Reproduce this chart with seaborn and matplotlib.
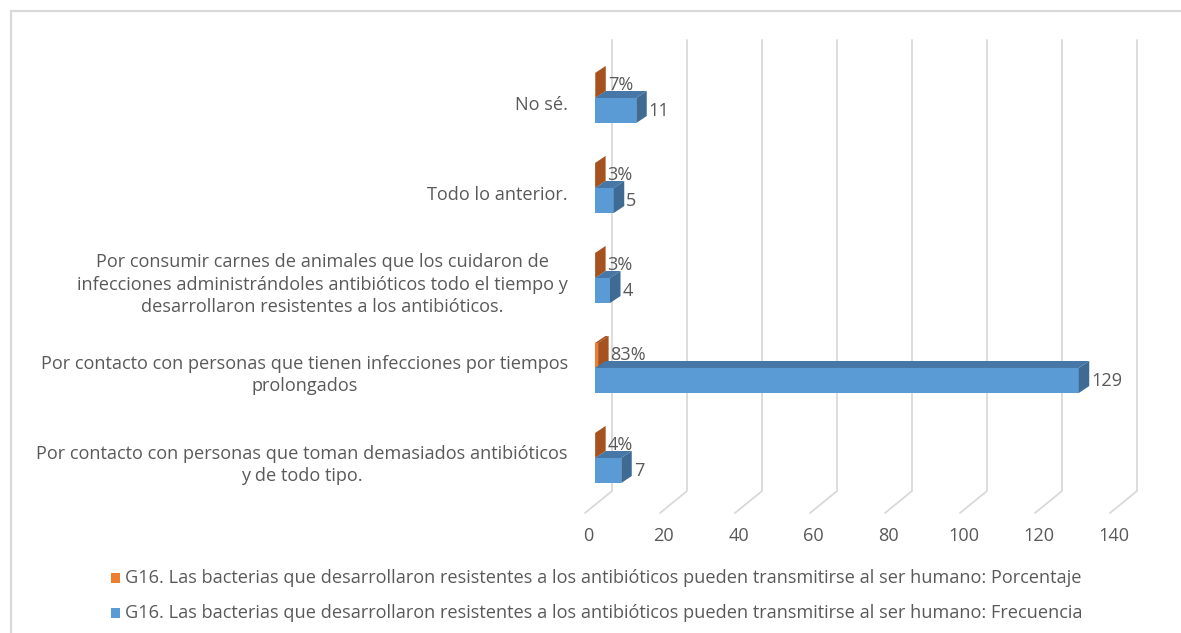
import pandas as pd
import matplotlib
matplotlib.use("Agg")
import matplotlib.pyplot as plt
from matplotlib.patches import Polygon, Rectangle
from matplotlib.lines import Line2D
import seaborn as sns

# datos
categorias = [
    "No sé.",
    "Todo lo anterior.",
    "Por consumir carnes de animales que los cuidaron de\ninfecciones administrándoles antibióticos todo el tiempo y\ndesarrollaron resistentes a los antibióticos.",
    "Por contacto con personas que tienen infecciones por tiempos\nprolongados",
    "Por contacto con personas que toman demasiados antibióticos\ny de todo tipo.",
]
frecuencia = [11, 5, 4, 129, 7]
porcentaje = [0.07, 0.03, 0.03, 0.83, 0.04]
etiquetas_pct = ["7%", "3%", "3%", "83%", "4%"]
etiquetas_frec = ["11", "5", "4", "129", "7"]
serie_pct = "G16. Las bacterias que desarrollaron resistentes a los antibióticos pueden transmitirse al ser humano: Porcentaje"
serie_frec = "G16. Las bacterias que desarrollaron resistentes a los antibióticos pueden transmitirse al ser humano: Frecuencia"
ticks_x = [0, 20, 40, 60, 80, 100, 120, 140]

df = pd.DataFrame({
    "categoria": categorias * 2,
    "valor": porcentaje + frecuencia,
    "serie": [serie_pct] * len(categorias) + [serie_frec] * len(categorias),
})

NARANJA = "#ED7D31"
NARANJA_LADO = "#A5521F"
AZUL = "#5B9BD5"
AZUL_ARRIBA = "#4677A6"
AZUL_LADO = "#3E6A93"
GRIS_TXT = "#595959"
GRIS_REJ = "#D9D9D9"

sns.set_style("white")
plt.rcParams["font.family"] = ["Open Sans", "DejaVu Sans"]
FS = 13.1

W, H = 1181, 633
fig = plt.figure(figsize=(W / 100, H / 100), dpi=100)

# escala en pixeles: 0 del frente de las barras en x=595, 3.75 px por unidad
PX_X = 3.75
X0 = 595
PX_Y = 90
Y0 = 98
left_px, right_px, top_px, bot_px = 580, 1165, 35, 560
ax = fig.add_axes([left_px / W, 1 - bot_px / H, (right_px - left_px) / W, (bot_px - top_px) / H])

sns.barplot(data=df, y="categoria", x="valor", hue="serie", order=categorias,
            hue_order=[serie_pct, serie_frec], palette=[NARANJA, AZUL],
            width=0.556, dodge=True, errorbar=None, saturation=1,
            linewidth=0, legend=False, ax=ax)

ax.set_xlim((left_px - X0) / PX_X, (right_px - X0) / PX_X)
ax.set_ylim((bot_px - Y0) / PX_Y, (top_px - Y0) / PX_Y)
ax.set_axis_off()

# profundidad de las barras (efecto 3D)
dx = 10.5 / PX_X
dy = 7 / PX_Y

for p in ax.patches:
    x0 = p.get_x()
    x1 = x0 + p.get_width()
    yt = p.get_y()
    yb = yt + p.get_height()
    es_azul = matplotlib.colors.same_color(p.get_facecolor(), AZUL)
    z = 3 if es_azul else 2
    p.set_zorder(z)
    arriba = AZUL_ARRIBA if es_azul else NARANJA_LADO
    lado = AZUL_LADO if es_azul else NARANJA_LADO
    ax.add_patch(Polygon([(x0, yt), (x1, yt), (x1 + dx, yt - dy), (x0 + dx, yt - dy)],
                         closed=True, facecolor=arriba, edgecolor="none", zorder=z))
    ax.add_patch(Polygon([(x1, yt), (x1, yb), (x1 + dx, yb - dy), (x1 + dx, yt - dy)],
                         closed=True, facecolor=lado, edgecolor="none", zorder=z))

# rejilla: pared del fondo + piso
g_top = (40 - Y0) / PX_Y
g_bot = (491 - Y0) / PX_Y
g_front = (513 - Y0) / PX_Y
back_off = 17 / PX_X
front_off = -10 / PX_X
for v in ticks_x:
    ax.add_line(Line2D([v + back_off, v + back_off, v + front_off], [g_top, g_bot, g_front],
                       color=GRIS_REJ, lw=1.3, zorder=1))
    ax.text(v - 1.7, (536 - Y0) / PX_Y, str(v), ha="center", va="center",
            fontsize=FS, color=GRIS_TXT, clip_on=False)

# etiquetas de categorias
for i, cat in enumerate(categorias):
    ax.text((568 - X0) / PX_X, i + 0.075, cat, ha="right", va="center",
            multialignment="center", fontsize=FS, color=GRIS_TXT,
            linespacing=1.32, clip_on=False)

# etiquetas de datos
bw = 0.556 / 2
for i in range(len(categorias)):
    ax.text(porcentaje[i] + dx + 2 / PX_X, i - bw / 2, etiquetas_pct[i], ha="left",
            va="center", fontsize=FS, color=GRIS_TXT, zorder=4)
    ax.text(frecuencia[i] + dx + 2 / PX_X, i + bw / 2, etiquetas_frec[i], ha="left",
            va="center", fontsize=FS, color=GRIS_TXT, zorder=4)

# leyenda
for yc, color, txt in [(578, NARANJA, serie_pct), (613, AZUL, serie_frec)]:
    fig.add_artist(Rectangle((111 / W, 1 - (yc + 5) / H), 9 / W, 10 / H,
                             transform=fig.transFigure, facecolor=color, edgecolor="none"))
    fig.text(125 / W, 1 - yc / H, txt, ha="left", va="center", fontsize=FS, color=GRIS_TXT)

# marco del grafico
fig.add_artist(Line2D([11 / W, 1], [1 - 11 / H, 1 - 11 / H], transform=fig.transFigure,
                      color=GRIS_REJ, lw=1.6))
fig.add_artist(Line2D([11 / W, 11 / W], [1 - 11 / H, 0], transform=fig.transFigure,
                      color=GRIS_REJ, lw=1.6))

fig.savefig("out.png", dpi=100)
